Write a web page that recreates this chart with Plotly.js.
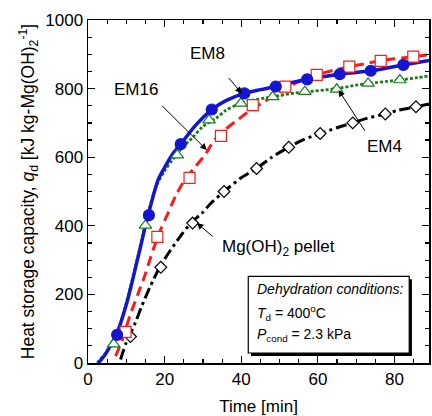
<!DOCTYPE html>
<html>
<head>
<meta charset="utf-8">
<script src="https://cdn.plot.ly/plotly-3.0.1.min.js"></script>
<style>
html,body{margin:0;padding:0;background:#fff;}
#chart{width:432px;height:416px;}
</style>
</head>
<body>
<div id="chart"></div>
<script>
// ---- data ----
// EM8 (blue, solid, filled circles)
var em8LineX = [2.7, 4.5, 6.2, 7.5, 10.1, 13.1, 15.7, 18.3, 20, 22, 24.2, 28, 32.3, 36, 40.8, 45, 49, 53, 57.2, 61, 65.7, 70, 73.8, 78, 82.3, 86, 89];
var em8LineY = [0, 25, 57, 85, 174, 310, 431, 534, 570, 608, 638, 692, 739, 765, 786, 797, 806, 817, 827, 834, 842, 847, 852, 860, 869, 876, 882];
var em8MarkX = [7.6, 15.9, 24.2, 32.3, 40.8, 49.0, 57.2, 65.7, 73.8, 82.3];
var em8MarkY = [82, 431, 638, 739, 786, 806, 827, 842, 852, 869];

// EM4 (green, dotted, open triangles)
var em4LineX = [2.4, 4.5, 6.2, 8, 10.1, 13.1, 15.5, 18, 20, 22, 24, 27.5, 30, 33.6, 36, 38.8, 42, 46, 50, 54, 58, 62, 66, 70, 74, 78, 82, 86, 89];
var em4LineY = [0, 28, 60, 100, 180, 315, 430, 520, 560, 592, 620, 660, 690, 715, 737, 752, 764, 772, 780, 787, 792, 796, 802, 810, 816, 821, 826, 832, 837];
var em4MarkX = [6.7, 15.0, 23.3, 31.6, 39.9, 48.2, 56.6, 64.9, 73.1, 81.4];
var em4MarkY = [55, 401, 606, 708, 757, 776, 791, 798, 815, 825];

// EM16 (red, dashed, open squares)
var em16LineX = [7.2, 9, 11, 13, 15, 17, 19, 21, 23, 25.3, 28, 30.5, 33, 36, 39.2, 42.5, 46, 50, 55, 59.7, 64, 68.2, 72, 76.4, 80, 84.9, 89];
var em16LineY = [20, 70, 140, 200, 260, 330, 390, 440, 490, 534, 572, 606, 650, 682, 710, 738, 762, 790, 820, 840, 853, 864, 872, 881, 887, 893, 899];
var em16MarkX = [9.8, 18.1, 26.5, 34.7, 43.0, 51.5, 59.7, 68.2, 76.4, 84.9];
var em16MarkY = [91, 368, 540, 662, 752, 806, 840, 864, 881, 893];

// Mg(OH)2 pellet (black, dash-dot, open diamonds)
var pelLineX = [8.5, 10, 12.3, 14, 16.2, 18.8, 21, 24, 27, 29.7, 32, 35.5, 40, 44, 48, 52.4, 56, 60.6, 65, 69.1, 73, 77.6, 81, 85.6, 89];
var pelLineY = [10, 60, 116, 165, 222, 281, 320, 368, 410, 436, 465, 500, 540, 567, 600, 629, 650, 669, 686, 700, 714, 726, 737, 747, 755];
var pelMarkX = [11.1, 19.0, 27.3, 35.5, 44.0, 52.4, 60.6, 69.1, 77.6, 85.6];
var pelMarkY = [77, 279, 408, 500, 567, 629, 669, 700, 726, 747];

var xTickVals = [0, 20, 40, 60, 80];
var yTickVals = [0, 200, 400, 600, 800, 1000];

// ---- styles ----
var FONT = 'Liberation Sans, Arial, Helvetica, sans-serif';

function lineTrace(x, y, color, dash, width) {
  return {x: x, y: y, type: 'scatter', mode: 'lines', hoverinfo: 'skip', showlegend: false,
          line: {color: color, width: width, dash: dash, shape: 'spline', smoothing: 0.8}};
}
function markTrace(x, y, symbol, size, fill, edge) {
  return {x: x, y: y, type: 'scatter', mode: 'markers', hoverinfo: 'skip', showlegend: false,
          marker: {symbol: symbol, size: size, color: fill, line: {color: edge, width: 1.2}}};
}

var traces = [
  lineTrace(pelLineX, pelLineY, '#000000', '11px,4px,3px,4px', 3),
  lineTrace(em16LineX, em16LineY, '#ff1a1a', '10px,6px', 3),
  lineTrace(em4LineX, em4LineY, '#118011', '3px,2px', 2.8),
  lineTrace(em8LineX, em8LineY, '#1515d0', 'solid', 3.5),
  markTrace(pelMarkX, pelMarkY, 'diamond', 9, '#ffffff', '#000000'),
  markTrace(em16MarkX, em16MarkY, 'square', 11, '#ffffff', '#ff1a1a'),
  markTrace(em4MarkX, em4MarkY, 'triangle-up', 11, '#ffffff', '#118011'),
  markTrace(em8MarkX, em8MarkY, 'circle', 11, '#1515d0', '#1515d0')
];

function label(text, x, y, xanchor) {
  return {text: text, x: x, y: y, xref: 'x', yref: 'y', showarrow: false,
          xanchor: xanchor || 'center', yanchor: 'middle', font: {family: FONT, size: 17, color: '#000'}};
}
function arrow(hx, hy, tx, ty) {
  return {text: ' ', x: hx, y: hy, ax: tx, ay: ty, xref: 'x', yref: 'y', axref: 'x', ayref: 'y',
          showarrow: true, arrowhead: 2, arrowsize: 1.3, arrowwidth: 1, arrowcolor: '#000', standoff: 0, startstandoff: 0};
}
function boxText(text, y, italic) {
  return {text: text, x: 0.4897, y: y, xref: 'paper', yref: 'paper', showarrow: false,
          xanchor: 'left', yanchor: 'middle',
          font: {family: FONT, size: 14, color: '#000', style: italic ? 'italic' : 'normal'}};
}

var layout = {
  width: 432, height: 416,
  margin: {l: 88, r: 3, t: 20, b: 53},
  paper_bgcolor: '#fff', plot_bgcolor: '#fff',
  font: {family: FONT, size: 17, color: '#000'},
  showlegend: false,
  xaxis: {
    range: [0, 89], tickvals: xTickVals, ticks: 'inside', ticklen: 7, tickwidth: 1.2, tickcolor: '#000',
    minor: {dtick: 5, ticks: 'inside', ticklen: 4, tickwidth: 1.2, tickcolor: '#000'},
    showline: true, linecolor: '#000', linewidth: 1.5, mirror: 'ticks', showgrid: false, zeroline: false,
    tickfont: {family: FONT, size: 17, color: '#000'},
    title: {text: 'Time [min]', font: {family: FONT, size: 17, color: '#000'}, standoff: 12}
  },
  yaxis: {
    range: [0, 1000], tickvals: yTickVals, ticks: 'inside', ticklen: 7, tickwidth: 1.2, tickcolor: '#000',
    minor: {dtick: 50, ticks: 'inside', ticklen: 4, tickwidth: 1.2, tickcolor: '#000'},
    showline: true, linecolor: '#000', linewidth: 1.5, mirror: 'ticks', showgrid: false, zeroline: false,
    tickfont: {family: FONT, size: 17, color: '#000'},
    title: {text: 'Heat storage capacity, <i>q</i><sub>d</sub> [kJ kg-Mg(OH)<sub>2</sub><sup>-1</sup>]',
            font: {family: FONT, size: 17.5, color: '#000'}, standoff: 6}
  },
  shapes: [
    {type: 'rect', xref: 'paper', yref: 'paper', x0: 0.478, x1: 0.950, y0: 0.0205, y1: 0.2441,
     fillcolor: '#000', line: {width: 0}, layer: 'above'},
    {type: 'rect', xref: 'paper', yref: 'paper', x0: 0.470, x1: 0.942, y0: 0.0292, y1: 0.2528,
     fillcolor: '#fff', line: {color: '#000', width: 1.2}, layer: 'above'}
  ],
  annotations: [
    label('EM8', 31.3, 901),
    label('EM16', 12.4, 796),
    label('EM4', 77.5, 630),
    label('Mg(OH)<sub>2</sub> pellet', 34.4, 336, 'left'),
    arrow(40.1, 786, 35.7, 845),
    arrow(31.0, 621, 18.3, 761),
    arrow(65.4, 796, 73.3, 659),
    arrow(28.4, 408, 33.6, 359),
    boxText('<i>Dehydration conditions:</i>', 0.2166, true),
    boxText('<i>T</i><sub>d</sub> = 400<sup>o</sup>C', 0.1458, false),
    boxText('<i>P</i><sub>cond</sub> = 2.3 kPa', 0.0825, false)
  ]
};

Plotly.newPlot('chart', traces, layout, {staticPlot: true, displayModeBar: false});
</script>
</body>
</html>
